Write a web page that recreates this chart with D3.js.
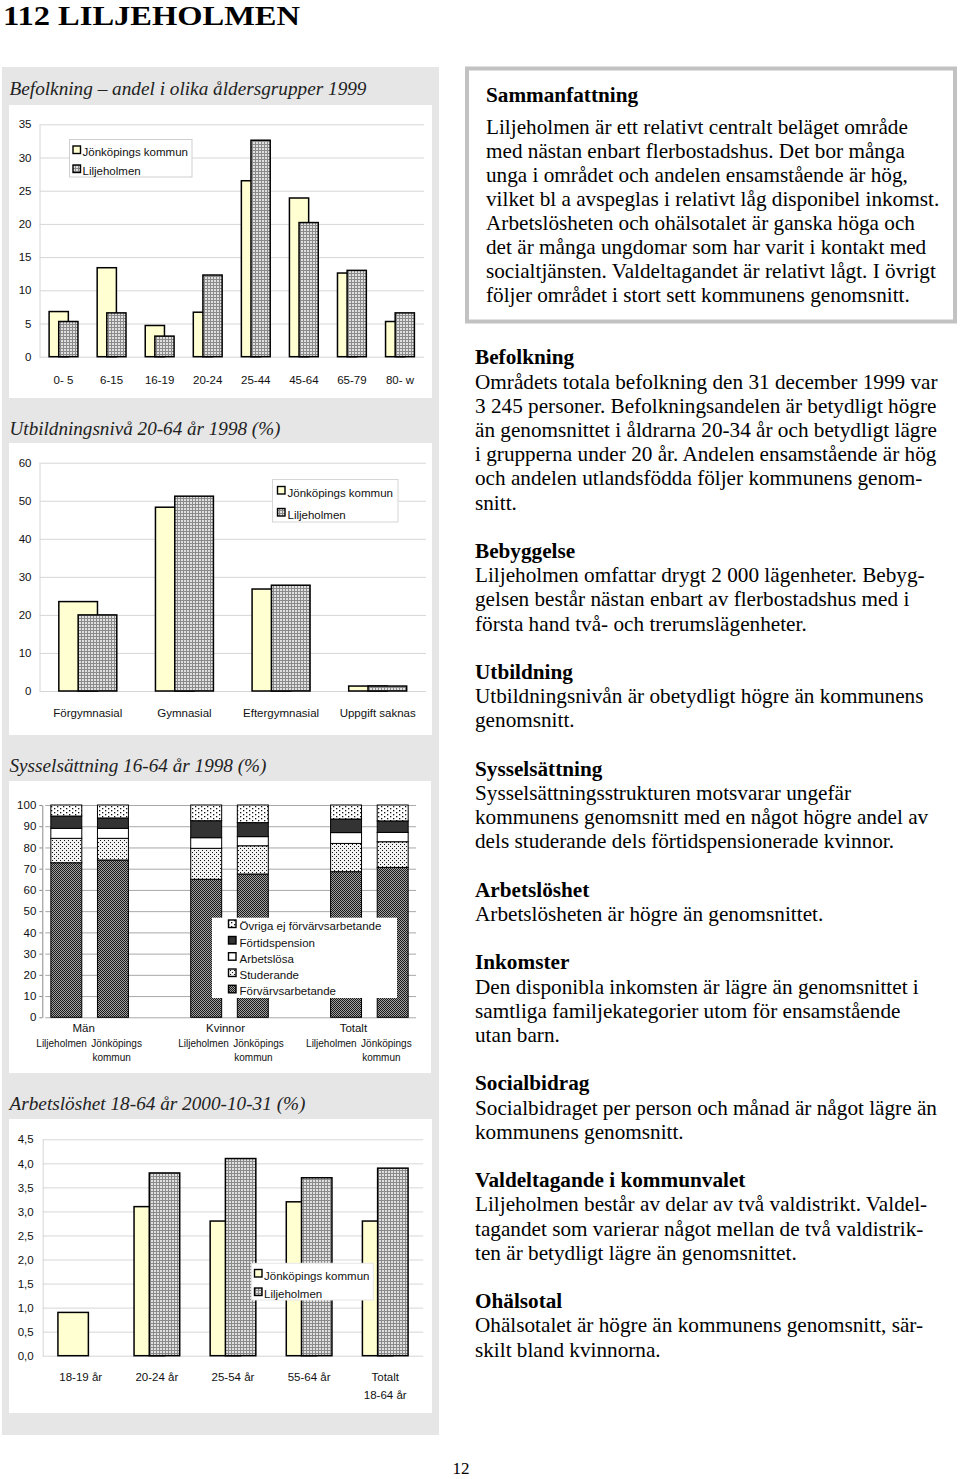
<!DOCTYPE html>
<html><head><meta charset="utf-8">
<script src="https://cdn.jsdelivr.net/npm/d3@7"></script>
<style>body{margin:0;background:#fff}svg{display:block}</style>
</head><body>
<svg id="c" width="960" height="1479"></svg>
<script>
// ---------------- DATA ----------------
const seriesNames = ["Jönköpings kommun", "Liljeholmen"];

const ageGroups = ["0- 5", "6-15", "16-19", "20-24", "25-44", "45-64", "65-79", "80- w"];
const ageJonkoping = [6.8, 13.4, 4.7, 6.7, 26.5, 23.9, 12.6, 5.3];
const ageLiljeholmen = [5.3, 6.6, 3.1, 12.3, 32.6, 20.2, 13.0, 6.6];
const ageTicks = [0, 5, 10, 15, 20, 25, 30, 35];

const eduLevels = ["Förgymnasial", "Gymnasial", "Eftergymnasial", "Uppgift saknas"];
const eduJonkoping = [23.5, 48.3, 26.8, 1.3];
const eduLiljeholmen = [20.0, 51.2, 27.8, 1.3];
const eduTicks = [0, 10, 20, 30, 40, 50, 60];

const empGroups = ["Män", "Kvinnor", "Totalt"];
const empAreas = ["Liljeholmen", "Jönköpings kommun"];
const empCategories = ["Förvärvsarbetande", "Studerande", "Arbetslösa", "Förtidspension", "Övriga ej förvärvsarbetande"];
// order of bars: Män-Liljeholmen, Män-Jönköping, Kvinnor-Liljeholmen, Kvinnor-Jönköping, Totalt-Liljeholmen, Totalt-Jönköping
const empForvarvsarbetande = [72.8, 74.1, 65.0, 67.5, 68.6, 70.6];
const empStuderande = [11.5, 10.2, 14.6, 13.3, 13.3, 12.1];
const empArbetslosa = [4.7, 4.7, 5.0, 4.3, 5.1, 4.4];
const empFortidspension = [5.8, 4.9, 8.0, 6.6, 6.4, 5.4];
const empOvriga = [5.2, 6.1, 7.4, 8.3, 6.6, 7.5];
const empTicks = [0, 10, 20, 30, 40, 50, 60, 70, 80, 90, 100];

const unempGroups = ["18-19 år", "20-24 år", "25-54 år", "55-64 år", "Totalt\n18-64 år"];
const unempJonkoping = [0.9, 3.1, 2.8, 3.2, 2.8];
const unempLiljeholmen = [0, 3.8, 4.1, 3.7, 3.9];
const unempTicks = [0, 0.5, 1, 1.5, 2, 2.5, 3, 3.5, 4, 4.5];

// ---------------- TEXT ----------------
const summaryLines = [
  "Liljeholmen är ett relativt centralt beläget område",
  "med nästan enbart flerbostadshus. Det bor många",
  "unga i området och andelen ensamstående är hög,",
  "vilket bl a avspeglas i relativt låg disponibel inkomst.",
  "Arbetslösheten och ohälsotalet är ganska höga och",
  "det är många ungdomar som har varit i kontakt med",
  "socialtjänsten. Valdeltagandet är relativt lågt. I övrigt",
  "följer området i stort sett kommunens genomsnitt."
];
const sections = [
  {h: "Befolkning", lines: [
    "Områdets totala befolkning den 31 december 1999 var",
    "3 245 personer. Befolkningsandelen är betydligt högre",
    "än genomsnittet i åldrarna 20-34 år och betydligt lägre",
    "i grupperna under 20 år. Andelen ensamstående är hög",
    "och andelen utlandsfödda följer kommunens genom-",
    "snitt."]},
  {h: "Bebyggelse", lines: [
    "Liljeholmen omfattar drygt 2 000 lägenheter. Bebyg-",
    "gelsen består nästan enbart av flerbostadshus med i",
    "första hand två- och trerumslägenheter."]},
  {h: "Utbildning", lines: [
    "Utbildningsnivån är obetydligt högre än kommunens",
    "genomsnitt."]},
  {h: "Sysselsättning", lines: [
    "Sysselsättningsstrukturen motsvarar ungefär",
    "kommunens genomsnitt med en något högre andel av",
    "dels studerande dels förtidspensionerade kvinnor."]},
  {h: "Arbetslöshet", lines: [
    "Arbetslösheten är högre än genomsnittet."]},
  {h: "Inkomster", lines: [
    "Den disponibla inkomsten är lägre än genomsnittet i",
    "samtliga familjekategorier utom för ensamstående",
    "utan barn."]},
  {h: "Socialbidrag", lines: [
    "Socialbidraget per person och månad är något lägre än",
    "kommunens genomsnitt."]},
  {h: "Valdeltagande i kommunvalet", lines: [
    "Liljeholmen består av delar av två valdistrikt. Valdel-",
    "tagandet som varierar något mellan de två valdistrik-",
    "ten är betydligt lägre än genomsnittet."]},
  {h: "Ohälsotal", lines: [
    "Ohälsotalet är högre än kommunens genomsnitt, sär-",
    "skilt bland kvinnorna."]}
];

// ---------------- SETUP ----------------
const SANS = "'Liberation Sans', Arial, sans-serif";
const SERIF = "'Liberation Serif', 'Times New Roman', serif";
const svg = d3.select("#c");
svg.append("rect").attr("width", 960).attr("height", 1479).attr("fill", "#fff");
const defs = svg.append("defs");
function pat(id, w, h, bg, rects) {
  const p = defs.append("pattern").attr("id", id).attr("patternUnits", "userSpaceOnUse")
    .attr("width", w).attr("height", h);
  p.append("rect").attr("width", w).attr("height", h).attr("fill", bg);
  rects.forEach(r => p.append("rect").attr("x", r[0]).attr("y", r[1]).attr("width", r[2]).attr("height", r[3]).attr("fill", r[4]));
}
pat("lilj", 3, 3, "#e0e0e0", [[0, 0, 3, 1, "#8a8a8a"], [0, 0, 1, 3, "#8a8a8a"]]);
pat("forv", 2, 2, "#a0a0a0", [[0, 0, 1, 1, "#1a1a1a"], [1, 1, 1, 1, "#1a1a1a"]]);
pat("stud", 4, 4, "#f2f2f2", [[0, 0, 1, 1, "#111"], [2, 2, 1, 1, "#111"]]);
pat("ovr", 6, 4, "#ffffff", [[0, 0, 1.3, 1.3, "#111"], [3, 2, 1.3, 1.3, "#111"]]);
const fills2 = ["#ffffd2", "url(#lilj)"];
const empFills = ["url(#forv)", "url(#stud)", "#ffffff", "#333333", "url(#ovr)"];

// page title
svg.append("text").attr("x", 3).attr("y", 25).attr("font-family", SERIF).attr("font-weight", "bold")
  .attr("font-size", 27).attr("textLength", 297).attr("lengthAdjust", "spacingAndGlyphs")
  .attr("fill", "#000").text("112  LILJEHOLMEN");

// left gray panel
svg.append("rect").attr("x", 2).attr("y", 67).attr("width", 437).attr("height", 1368).attr("fill", "#e6e6e6");
const whites = [[9, 105, 423, 293], [9, 443, 423, 292], [9, 781, 422, 292], [9, 1119, 423, 294]];
whites.forEach(w => svg.append("rect").attr("x", w[0]).attr("y", w[1]).attr("width", w[2]).attr("height", w[3]).attr("fill", "#fff"));

function title(txt, y, len) {
  svg.append("text").attr("x", 9.5).attr("y", y).attr("font-family", SERIF).attr("font-style", "italic")
    .attr("font-size", 19.5).attr("fill", "#222").attr("textLength", len).attr("lengthAdjust", "spacingAndGlyphs").text(txt);
}
title("Befolkning – andel i olika åldersgrupper 1999", 95, 357);
title("Utbildningsnivå 20-64 år 1998 (%)", 435, 271);
title("Sysselsättning 16-64 år 1998 (%)", 772, 257);
title("Arbetslöshet 18-64 år 2000-10-31 (%)", 1110, 296);

function styleAxis(ax, grid) {
  ax.attr("font-family", SANS).attr("font-size", 11.5);
  ax.select(".domain").attr("stroke", grid);
  ax.selectAll(".tick line").attr("stroke", grid);
  ax.selectAll(".tick text").attr("fill", "#111");
}

function legend(g, x, y, w, h, border, items, sx, tx, ys) {
  g.append("rect").attr("x", x).attr("y", y).attr("width", w).attr("height", h).attr("fill", "#fff")
    .attr("stroke", border || "none").attr("stroke-width", 1);
  items.forEach((it, i) => {
    g.append("rect").attr("x", sx).attr("y", ys[i] - 10).attr("width", 7.5).attr("height", 7.5)
      .attr("fill", it.fill).attr("stroke", "#000").attr("stroke-width", 1.4);
    g.append("text").attr("x", tx).attr("y", ys[i]).attr("font-family", SANS).attr("font-size", 11.5)
      .attr("fill", "#111").text(it.name);
  });
}

function overlapChart(o) {
  const g = svg.append("g");
  const x = d3.scaleBand().domain(o.cats).range([o.xl, o.xr]);
  const y = d3.scaleLinear().domain([0, o.ymax]).range([o.yb, o.yt]);
  const ax = g.append("g").attr("transform", `translate(${o.xl},0)`)
    .call(d3.axisLeft(y).tickValues(o.ticks).tickSize(-(o.xr - o.xl)).tickSizeOuter(0).tickPadding(o.pad)
      .tickFormat(o.fmt || d3.format("d")));
  styleAxis(ax, "#d6d6d6");
  const bw = x.bandwidth();
  o.series.forEach((vals, si) => {
    g.append("g").selectAll("rect")
      .data(o.cats.map((c, i) => ({c, v: vals[i]})).filter(d => d.v > 0))
      .join("rect")
      .attr("x", d => x(d.c) + bw * (0.2 + 0.2 * si)).attr("width", bw * 0.4)
      .attr("y", d => y(d.v)).attr("height", d => y(0) - y(d.v))
      .attr("fill", fills2[si]).attr("stroke", "#000").attr("stroke-width", 1.5);
  });
  o.cats.forEach(c => {
    const t = g.append("text").attr("font-family", SANS).attr("font-size", 11.5).attr("fill", "#111")
      .attr("text-anchor", "middle");
    c.split("\n").forEach((ln, i) => t.append("tspan").attr("x", x(c) + bw / 2).attr("y", o.labelY + i * 17.5).text(ln));
  });
  const L = o.legend;
  legend(g, L.x, L.y, L.w, L.h, L.border, seriesNames.map((n, i) => ({name: n, fill: fills2[i]})), L.sx, L.tx, L.ys);
}

// Chart 1
overlapChart({cats: ageGroups, series: [ageJonkoping, ageLiljeholmen], xl: 39.5, xr: 424, yb: 356.7, yt: 124.3,
  ymax: 35, ticks: ageTicks, pad: 8, labelY: 383.5,
  legend: {x: 69.5, y: 139.5, w: 122.5, h: 37.5, border: "#cfcfcf", sx: 73, tx: 82.5, ys: [156, 175]}});
// Chart 2
overlapChart({cats: eduLevels, series: [eduJonkoping, eduLiljeholmen], xl: 39.5, xr: 426, yb: 691, yt: 462.7,
  ymax: 60, ticks: eduTicks, pad: 8, labelY: 717,
  legend: {x: 272.5, y: 479.5, w: 125.5, h: 42.5, border: "#d6d6d6", sx: 277.5, tx: 287.5, ys: [496.5, 518.5]}});
// Chart 4
const commaFmt = d3.formatLocale({decimal: ",", thousands: " ", grouping: [3], currency: ["", ""]}).format(".1f");
overlapChart({cats: unempGroups, series: [unempJonkoping, unempLiljeholmen], xl: 42.7, xr: 423.3, yb: 1355.7, yt: 1139.3,
  ymax: 4.5, ticks: unempTicks, pad: 9, fmt: commaFmt, labelY: 1381,
  legend: {x: 251.7, y: 1263.3, w: 121.6, h: 36.7, border: "#e6e6e6", sx: 254.5, tx: 264, ys: [1279.5, 1298]}});

// Chart 3 (stacked)
(function () {
  const g = svg.append("g");
  const xl = 42.3, xr = 416;
  const y = d3.scaleLinear().domain([0, 100]).range([1017.3, 805]);
  const x0 = d3.scaleBand().domain(empGroups).range([43, 416]).paddingInner(1 / 3).paddingOuter(0);
  const x1 = d3.scaleBand().domain(empAreas).range([0, x0.bandwidth()]).paddingInner(0.336).paddingOuter(0.168);
  const ax = g.append("g").attr("transform", `translate(${xl},0)`)
    .call(d3.axisLeft(y).tickValues(empTicks).tickSize(-(xr - xl)).tickSizeOuter(0).tickPadding(6).tickFormat(d3.format("d")));
  styleAxis(ax, "#a8a8a8");
  ax.select(".domain").attr("stroke", "#8a8a8a");
  ax.selectAll(".tick line").attr("x1", 3);
  ax.selectAll(".tick").append("line").attr("x1", -3).attr("x2", 0).attr("stroke", "#8a8a8a");
  const catVals = [empForvarvsarbetande, empStuderande, empArbetslosa, empFortidspension, empOvriga];
  const rows = [];
  empGroups.forEach((gr, gi) => empAreas.forEach((ar, ai) => {
    const r = {group: gr, area: ar};
    empCategories.forEach((c, ci) => r[c] = catVals[ci][gi * 2 + ai]);
    rows.push(r);
  }));
  const stacked = d3.stack().keys(empCategories)(rows);
  stacked.forEach((layer, li) => {
    g.append("g").selectAll("rect").data(layer).join("rect")
      .attr("x", d => x0(d.data.group) + x1(d.data.area)).attr("width", x1.bandwidth())
      .attr("y", d => y(d[1])).attr("height", d => y(d[0]) - y(d[1]))
      .attr("fill", empFills[li]).attr("stroke", "#000").attr("stroke-width", 1);
  });
  const shifts = [-6, -4, -16];
  empGroups.forEach((gr, gi) => {
    const cx = x0(gr) + x0.bandwidth() / 2 + shifts[gi];
    const t = (s, xx, yy, fs) => g.append("text").attr("x", xx).attr("y", yy).attr("text-anchor", "middle")
      .attr("font-family", SANS).attr("font-size", fs).attr("fill", "#111").text(s);
    t(gr, cx, 1032, 11.5);
    t(empAreas[0], cx - 22, 1046.5, 10);
    t("Jönköpings", cx + 33, 1046.5, 10);
    t("kommun", cx + 28, 1060.5, 10);
  });
  const order = [4, 3, 2, 1, 0];
  legend(g, 212, 917.7, 185, 80.3, null,
    order.map(i => ({name: empCategories[i], fill: empFills[i]})), 228.5, 239.5, [930, 946.5, 962.7, 979, 995.3]);
})();

// ---------------- RIGHT COLUMN TEXT ----------------
const measure = svg.append("text").attr("font-family", SERIF).attr("font-size", 20).text(sections[0].lines[0]);
const sxBody = 463 / measure.node().getComputedTextLength();
measure.remove();

svg.append("rect").attr("x", 467).attr("y", 68.5).attr("width", 488).attr("height", 253)
  .attr("fill", "#fff").attr("stroke", "#c2c2c2").attr("stroke-width", 4);

function textBlock(x, y, lines, bold) {
  const g = svg.append("g").attr("transform", `translate(${x},${y}) scale(${sxBody},1)`);
  g.append("text").attr("x", 0).attr("y", 0).attr("font-family", SERIF).attr("font-size", 20)
    .attr("font-weight", bold ? "bold" : "normal").attr("fill", "#000").text(lines);
}
textBlock(486, 101.7, "Sammanfattning", true);
summaryLines.forEach((l, i) => textBlock(486, 134 + i * 24.0, l, false));

let li = 0;
const base = 364.3, lh = 24.2;
sections.forEach(s => {
  textBlock(475, base + li * lh, s.h, true); li++;
  s.lines.forEach(l => { textBlock(475, base + li * lh, l, false); li++; });
  li++;
});

// page number
svg.append("text").attr("x", 461).attr("y", 1474).attr("text-anchor", "middle").attr("font-family", SERIF)
  .attr("font-size", 17).attr("fill", "#000").text("12");
</script>
</body></html>
